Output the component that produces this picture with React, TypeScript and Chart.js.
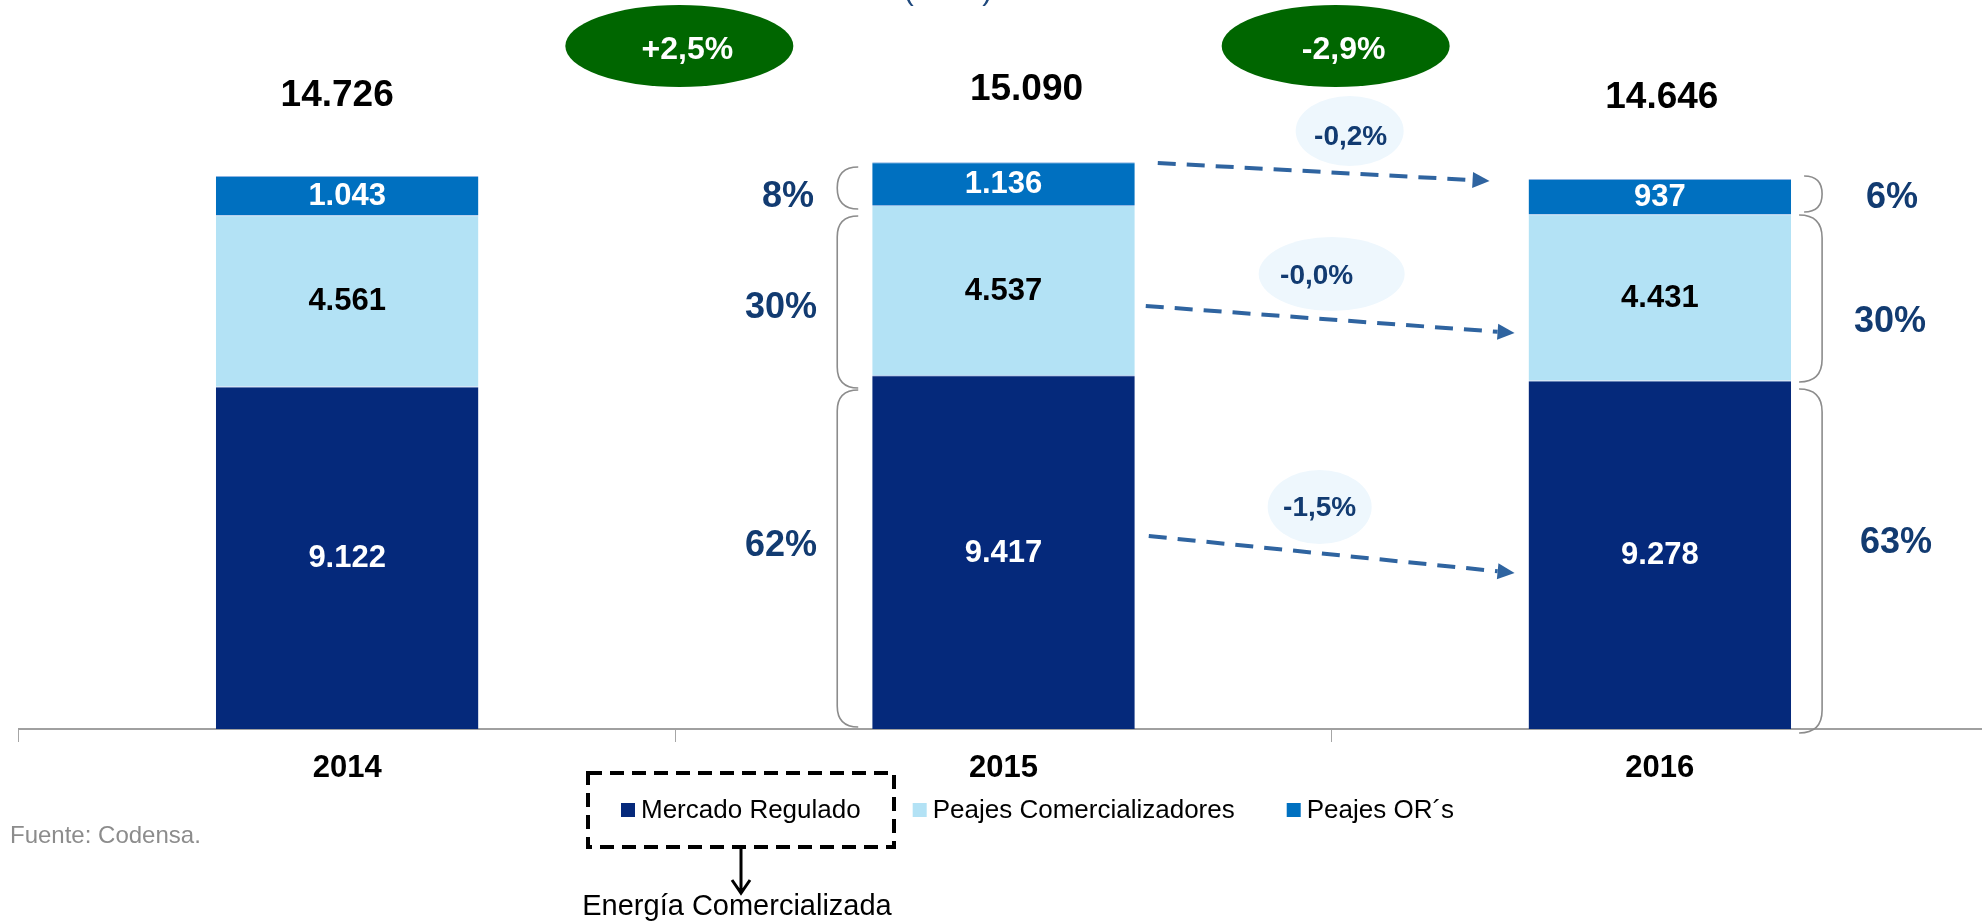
import React, { useEffect, useRef } from "react";
import { Chart, registerables } from "chart.js";

Chart.register(...registerables);

// ---------- data ----------
const years = ["2014", "2015", "2016"];
const mercadoRegulado = [9122, 9417, 9278];
const peajesComercializadores = [4561, 4537, 4431];
const peajesORs = [1043, 1136, 937];
const seriesNames = ["Mercado Regulado", "Peajes Comercializadores", "Peajes OR´s"];
const totalGrowthLabels = ["+2,5%", "-2,9%"];
// change 2015 -> 2016 per segment (OR´s, Comercializadores, Regulado)
const segmentChangeLabels = ["-0,2%", "-0,0%", "-1,5%"];
const sourceNote = "Fuente: Codensa.";
const boxedCaption = "Energía Comercializada";
const unitTitle = "(GWh)";

// ---------- style ----------
const FONT = '"Liberation Sans", Arial, Helvetica, sans-serif';
const seriesColors = ["#05297B", "#B3E2F5", "#0070C0"];
const valueLabelColors = ["#FFFFFF", "#000000", "#FFFFFF"];
const GREEN = "#006600";
const BUBBLE = "#EEF7FD";
const NAVY_TEXT = "#123B71";
const ARROW = "#2F64A0";
const BRACE = "#8C8C8C";

const fmt = (n: number) => String(n).replace(/\B(?=(\d{3})+(?!\d))/g, ".");

function dashedArrow(ctx: CanvasRenderingContext2D, x1: number, y1: number, x2: number, y2: number) {
  const a = Math.atan2(y2 - y1, x2 - x1);
  const head = 17;
  const hw = 8;
  const bx = x2 - head * Math.cos(a);
  const by = y2 - head * Math.sin(a);
  ctx.save();
  ctx.strokeStyle = ARROW;
  ctx.fillStyle = ARROW;
  ctx.lineWidth = 4;
  ctx.setLineDash([18, 11]);
  ctx.beginPath();
  ctx.moveTo(x1, y1);
  ctx.lineTo(bx, by);
  ctx.stroke();
  ctx.setLineDash([]);
  ctx.beginPath();
  ctx.moveTo(x2, y2);
  ctx.lineTo(bx - hw * Math.sin(a), by + hw * Math.cos(a));
  ctx.lineTo(bx + hw * Math.sin(a), by - hw * Math.cos(a));
  ctx.closePath();
  ctx.fill();
  ctx.restore();
}

// bracket: xTip = vertical line position, xEnd = where the hooks end
function brace(ctx: CanvasRenderingContext2D, xTip: number, xEnd: number, yTop: number, yBot: number) {
  const r = Math.min(Math.abs(xEnd - xTip), (yBot - yTop) / 2);
  const dir = xEnd > xTip ? 1 : -1;
  ctx.save();
  ctx.strokeStyle = BRACE;
  ctx.lineWidth = 1.6;
  ctx.beginPath();
  ctx.moveTo(xTip + dir * r, yTop);
  ctx.quadraticCurveTo(xTip, yTop, xTip, yTop + r);
  ctx.lineTo(xTip, yBot - r);
  ctx.quadraticCurveTo(xTip, yBot, xTip + dir * r, yBot);
  ctx.stroke();
  ctx.restore();
}

const annotationPlugin = {
  id: "annotations",
  afterDatasetsDraw(chart: any) {
    const ctx: CanvasRenderingContext2D = chart.ctx;
    const xs = chart.scales.x;
    const ys = chart.scales.y;
    const series = [mercadoRegulado, peajesComercializadores, peajesORs];
    const bar = (ds: number, i: number) => chart.getDatasetMeta(ds).data[i] as any;
    const totals = years.map((_, i) => series.reduce((s, arr) => s + arr[i], 0));

    ctx.save();
    ctx.textAlign = "center";
    ctx.textBaseline = "middle";

    // values inside segments
    ctx.font = `bold 31px ${FONT}`;
    series.forEach((arr, ds) => {
      arr.forEach((v, i) => {
        const b = bar(ds, i);
        ctx.fillStyle = valueLabelColors[ds];
        ctx.fillText(fmt(v), b.x, (b.y + b.base) / 2 + 1);
      });
    });

    // totals above bars
    const totalOffsets = [
      [-10, -80],
      [23, -72],
      [2, -81],
    ];
    ctx.font = `bold 37px ${FONT}`;
    ctx.fillStyle = "#000";
    totals.forEach((t, i) => {
      const top = ys.getPixelForValue(t);
      ctx.fillText(fmt(t), xs.getPixelForValue(i) + totalOffsets[i][0], top + totalOffsets[i][1]);
    });

    // growth ellipses
    totalGrowthLabels.forEach((lab, i) => {
      const cx = (xs.getPixelForValue(i) + xs.getPixelForValue(i + 1)) / 2 + 4;
      const cy = 46;
      ctx.fillStyle = GREEN;
      ctx.beginPath();
      ctx.ellipse(cx, cy, 114, 41, 0, 0, Math.PI * 2);
      ctx.fill();
      ctx.fillStyle = "#FFF";
      ctx.font = `bold 32px ${FONT}`;
      ctx.fillText(lab, cx + 8, cy + 4);
    });

    // change bubbles between 2015 and 2016
    const b15 = bar(2, 1);
    const b16 = bar(2, 2);
    const gapMid = (b15.x + b15.width / 2 + b16.x - b16.width / 2) / 2;
    const bubbles = [
      { dx: 18, y: 131, rx: 54, ry: 35, tdx: 19, ty: 137 },
      { dx: 0, y: 274, rx: 73, ry: 37, tdx: -15, ty: 276 },
      { dx: -12, y: 507, rx: 52, ry: 37, tdx: -12, ty: 508 },
    ];
    segmentChangeLabels.forEach((lab, k) => {
      const bb = bubbles[k];
      ctx.fillStyle = BUBBLE;
      ctx.beginPath();
      ctx.ellipse(gapMid + bb.dx, bb.y, bb.rx, bb.ry, 0, 0, Math.PI * 2);
      ctx.fill();
      ctx.fillStyle = NAVY_TEXT;
      ctx.font = `bold 28px ${FONT}`;
      ctx.fillText(lab, gapMid + bb.tdx, bb.ty);
    });

    // dashed arrows
    const r15 = b15.x + b15.width / 2;
    const l16 = b16.x - b16.width / 2;
    dashedArrow(ctx, r15 + 23, 163, l16 - 39, 181);
    dashedArrow(ctx, r15 + 11, 306, l16 - 14, 333);
    dashedArrow(ctx, r15 + 14, 536, l16 - 14, 573);

    // braces + shares
    const l15 = b15.x - b15.width / 2;
    const r16 = b16.x + b16.width / 2;
    const leftBraces = [
      [167, 209],
      [216, 388],
      [390, 727],
    ];
    const rightBraces = [
      [176, 212],
      [215, 382],
      [389, 733],
    ];
    leftBraces.forEach(([t, bt]) => brace(ctx, l15 - 35, l15 - 14, t, bt));
    rightBraces.forEach(([t, bt]) => brace(ctx, r16 + 31, r16 + 8, t, bt));

    const shareOrder = [2, 1, 0]; // OR´s, Comercializadores, Regulado (top to bottom)
    const leftShareY = [197, 308, 546];
    const leftShareX = [788, 781, 781];
    const rightShareY = [198, 322, 543];
    const rightShareX = [1892, 1890, 1896];
    ctx.font = `bold 36px ${FONT}`;
    ctx.fillStyle = NAVY_TEXT;
    shareOrder.forEach((ds, k) => {
      const p15 = Math.round((series[ds][1] / totals[1]) * 100);
      const p16 = Math.round((series[ds][2] / totals[2]) * 100);
      ctx.fillText(`${p15}%`, leftShareX[k], leftShareY[k]);
      ctx.fillText(`${p16}%`, rightShareX[k], rightShareY[k]);
    });

    // year labels
    ctx.font = `bold 31px ${FONT}`;
    ctx.fillStyle = "#000";
    years.forEach((y, i) => ctx.fillText(y, xs.getPixelForValue(i), 768));

    // legend
    ctx.textAlign = "left";
    ctx.font = `26px ${FONT}`;
    let lx = 621;
    const ly = 810;
    seriesNames.forEach((name, k) => {
      ctx.fillStyle = seriesColors[k];
      ctx.fillRect(lx, ly - 7, 14, 14);
      ctx.fillStyle = "#000";
      ctx.fillText(name, lx + 20, ly + 1);
      lx += 20 + ctx.measureText(name).width + 52;
    });

    // dashed box around first legend entry
    ctx.strokeStyle = "#000";
    ctx.lineWidth = 4;
    ctx.setLineDash([14, 8]);
    ctx.strokeRect(588, 773, 306, 74);
    ctx.setLineDash([]);
    ctx.lineWidth = 3;
    ctx.beginPath();
    ctx.moveTo(741, 847);
    ctx.lineTo(741, 893);
    ctx.moveTo(732, 880);
    ctx.lineTo(741, 893);
    ctx.lineTo(750, 880);
    ctx.stroke();

    ctx.textAlign = "center";
    ctx.font = `29px ${FONT}`;
    ctx.fillStyle = "#000";
    ctx.fillText(boxedCaption, 737, 907);

    // source
    ctx.textAlign = "left";
    ctx.font = `24px ${FONT}`;
    ctx.fillStyle = "#8C8C8C";
    ctx.fillText(sourceNote, 10, 836);

    // cut-off unit title at top
    ctx.textAlign = "center";
    ctx.textBaseline = "alphabetic";
    ctx.font = `30px ${FONT}`;
    ctx.fillStyle = "#1F497D";
    ctx.fillText(unitTitle, 948, 0);

    ctx.restore();
  },
};

export default function App() {
  const ref = useRef<HTMLCanvasElement>(null);
  useEffect(() => {
    const canvas = ref.current;
    if (!canvas) return;
    const chart = new Chart(canvas, {
      type: "bar",
      data: {
        labels: years,
        datasets: [
          { label: seriesNames[0], data: mercadoRegulado, backgroundColor: seriesColors[0] },
          { label: seriesNames[1], data: peajesComercializadores, backgroundColor: seriesColors[1] },
          { label: seriesNames[2], data: peajesORs, backgroundColor: seriesColors[2] },
        ].map((d) => ({
          ...d,
          barPercentage: 0.4,
          categoryPercentage: 1,
          borderWidth: { top: 1, left: 0, right: 0, bottom: 0 },
          borderColor: "#8DB4E2",
          borderSkipped: false,
        })),
      },
      options: {
        responsive: false,
        animation: false,
        devicePixelRatio: 1,
        layout: { padding: { top: 53, left: 19, right: 0, bottom: 0 } },
        plugins: {
          legend: { display: false },
          tooltip: { enabled: false },
        },
        scales: {
          x: {
            stacked: true,
            offset: true,
            grid: {
              offset: true,
              drawOnChartArea: false,
              drawTicks: true,
              tickLength: 13,
              color: "#A6A6A6",
              lineWidth: 1,
            },
            border: { display: true, color: "#A0A0A0", width: 2 },
            ticks: { display: false },
            afterFit: (s: any) => {
              s.height = 194;
            },
          },
          y: { stacked: true, display: false, min: 0, max: 18000 },
        },
      } as any,
      plugins: [annotationPlugin],
    });
    return () => chart.destroy();
  }, []);

  return (
    <div
      style={{
        position: "fixed",
        left: 0,
        top: 0,
        width: 1982,
        height: 923,
        overflow: "hidden",
        background: "#FFFFFF",
      }}
    >
      <canvas ref={ref} width={1988} height={923} style={{ display: "block", width: 1988, height: 923 }} />
    </div>
  );
}
